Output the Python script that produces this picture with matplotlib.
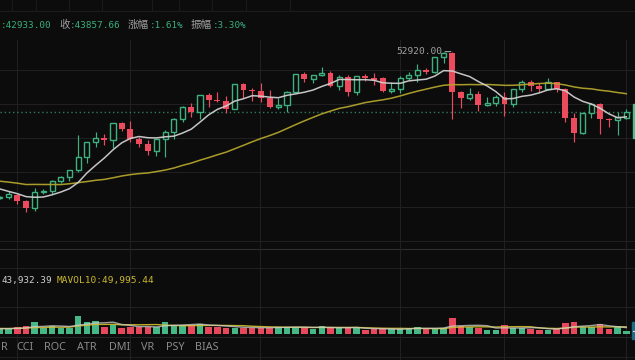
import matplotlib
matplotlib.use("Agg")
import matplotlib.pyplot as plt
import numpy as np
import pandas as pd
from matplotlib.lines import Line2D
from matplotlib.patches import Rectangle

# ---------------- data ----------------
prior_close = [35600, 35300, 35400, 31500, 32300, 33500, 34500, 31400, 32000, 34500,
               34300, 35700, 34800, 33300, 33600, 34500, 35100, 33500, 34000, 33700,
               32700, 33600, 33300, 34100, 32900, 32500, 32600, 31700, 31200]
prior_volume = [38000, 41000, 36000, 45000, 39000, 35000, 42000, 40000, 37000]

opens = [31030, 31180, 31450, 30510, 29410, 31900, 32010, 33510, 34060, 35110,
         37060, 39310, 39960, 39660, 42160, 41350, 39810, 39010, 38050, 39760,
         40810, 42850, 44650, 43860, 46400, 45700, 45510, 44350, 48010, 47110,
         47050, 45910, 44650, 44910, 46900, 49510, 48850, 49360, 49660, 47800,
         49110, 46810, 49260, 48960, 48900, 47050, 47310, 49000, 49410, 50160,
         49810, 52060, 52700, 46900, 46000, 46560, 44910, 45250, 46150, 45010,
         47260, 48310, 47800, 47310, 48400, 47310, 42910, 40660, 43750, 45010,
         42810, 42660, 42933]
highs = [31330, 32010, 31560, 30730, 32530, 32310, 33660, 34300, 35160, 40410,
         39360, 40810, 40560, 42210, 42310, 42510, 40150, 39660, 39850, 41160,
         42910, 44710, 45250, 46450, 46660, 46860, 46300, 48060, 48250, 47500,
         48160, 47160, 45910, 47010, 49560, 49810, 49410, 50560, 50010, 49410,
         49410, 49300, 49510, 49660, 49060, 48310, 49260, 49810, 51060, 50500,
         52150, 52880, 52920, 47080, 47410, 47010, 46060, 46410, 46900, 47310,
         48660, 48660, 48160, 48910, 48410, 47410, 43660, 43810, 45250, 45250,
         42960, 43900, 44280]
lows = [30880, 30810, 30060, 28860, 29080, 31560, 31560, 33160, 33510, 34860,
        36160, 38650, 38950, 38410, 41050, 39310, 38560, 37410, 37300, 37150,
        39760, 42360, 43150, 42760, 44650, 45400, 43750, 44300, 45910, 45550,
        45400, 44410, 44310, 43900, 46710, 48310, 48160, 49260, 47650, 47200,
        46300, 46410, 48510, 47910, 46900, 46660, 46660, 48660, 48400, 49510,
        49660, 51160, 42760, 44410, 45660, 44050, 44800, 44760, 43300, 44650,
        46810, 47050, 46810, 47230, 46810, 42400, 39350, 40510, 43000, 40560,
        41560, 40460, 42856]
closes = [31180, 31560, 30510, 29410, 31900, 32010, 33510, 34060, 35110, 37060,
          39310, 39960, 39660, 42160, 41350, 39810, 39010, 38050, 39760, 40810,
          42850, 44650, 43860, 46400, 45700, 45510, 44350, 48010, 47110, 47050,
          45910, 44650, 44910, 46900, 49510, 48850, 49360, 49660, 47800, 49110,
          46810, 49260, 48960, 48700, 47050, 47310, 49000, 49410, 50160, 49810,
          52060, 52700, 46900, 46000, 46560, 44910, 45250, 46150, 45010, 47260,
          48310, 47800, 47310, 48400, 47310, 42910, 40660, 43750, 45010, 42810,
          42660, 43160, 43857.66]
volumes = [34900, 34900, 52700, 58100, 86800, 42600, 58100, 42600, 42600, 135600,
           86800, 99200, 50400, 68200, 45000, 50400, 52700, 52700, 52700, 89100,
           68200, 68200, 68200, 71300, 52700, 52700, 45000, 45000, 45000, 45000,
           45000, 45000, 52700, 52700, 52700, 45000, 34900, 54300, 45000, 45000,
           45000, 45000, 24800, 32600, 37200, 34900, 34900, 42600, 50400, 37200,
           37200, 45000, 120100, 60500, 50400, 42600, 29500, 29500, 65900, 45000,
           45000, 37200, 29500, 29500, 32600, 81400, 89100, 52700, 52700, 71300,
           32600, 52700, 19400]

header_labels = ["", "收", "涨幅", "振幅"]
header_values = [":42933.00", ":43857.66", ":1.61%", ":3.30%"]
mavol_texts = ["43,932.39", "MAVOL10:49,995.44"]
tabs = ["R", "CCI", "ROC", "ATR", "DMI", "VR", "PSY", "BIAS"]

# ---------------- styles ----------------
BG = "#0c0c0d"
GRID = "#202022"
GREEN = "#3fb07e"
RED = "#ec4a5d"
VGREEN = "#46b886"
VRED = "#e8485c"
MA_W = "#cfcfcf"
MA_Y = "#b3a42b"
GREY = "#a0a0a0"
MONO = ["DejaVu Sans Mono", "Noto Sans CJK SC"]
CJK = ["Noto Sans CJK SC", "DejaVu Sans"]

W, H = 635, 360
fig = plt.figure(figsize=(6.35, 3.6), dpi=100)
fig.patch.set_facecolor(BG)

def fy(y):
    return 1 - y / H

def fx(x):
    return x / W

def hline(y, color=GRID, x0=0, x1=W, lw=1.0, z=-1):
    fig.add_artist(Line2D([fx(x0), fx(x1)], [fy(y), fy(y)], transform=fig.transFigure,
                          color=color, lw=lw * 0.72, zorder=z))

def vline(x, y0, y1, color=GRID, lw=1.0, z=-1):
    fig.add_artist(Line2D([fx(x), fx(x)], [fy(y0), fy(y1)], transform=fig.transFigure,
                          color=color, lw=lw * 0.72, zorder=z))

# grid / frame lines (pixel positions of the layout)
for y in [70, 104, 138, 172, 207, 241, 268.3, 307.3]:
    hline(y)
hline(11, "#1c1c1e")
hline(249.3, "#303032")
hline(337.3, "#262628")
hline(356.7, "#1e1e20")
for x in [16.7, 130, 260, 400.3, 504.3, 626.3]:
    vline(x, 40, 360)
for x in [12, 36, 69, 102, 152, 179, 212, 246, 290]:
    vline(x, 0, 11, "#1a1a1c")

n = len(closes)
xi = np.arange(n)
o = np.array(opens, float)
h = np.array(highs, float)
l = np.array(lows, float)
c = np.array(closes, float)
v = np.array(volumes, float)
up = c >= o

all_c = pd.Series(np.concatenate([prior_close, c]))
ma7 = all_c.rolling(7).mean().values[len(prior_close):]
ma30 = all_c.rolling(30).mean().values[len(prior_close):]
all_v = pd.Series(np.concatenate([prior_volume, v]))
mv5 = all_v.rolling(5).mean().values[len(prior_volume):]
mv10 = all_v.rolling(10).mean().values[len(prior_volume):]

# ---------------- price panel ----------------
ax = fig.add_axes([0, fy(249), 1, (249 - 11) / H])
ax.set_facecolor("none")
ax.set_xlim(0.0115, 73.0)
ax.set_ylim(23308, 59008)
ax.axis("off")

ax.axhline(c[-1], color="#2e7a5a", lw=1.0, ls=(0, (1, 2)), zorder=1)

blo = np.minimum(o, c)
bhi = np.maximum(o, c)
minh = 150
dn = ~up
ax.vlines(xi[dn], l[dn], h[dn], color=RED, lw=0.85, zorder=2)
ax.bar(xi[dn], np.maximum(bhi - blo, minh)[dn], bottom=blo[dn], width=0.68,
       color=RED, linewidth=0, zorder=3)
ax.vlines(xi[up], bhi[up], h[up], color=GREEN, lw=0.85, zorder=2)
ax.vlines(xi[up], l[up], blo[up], color=GREEN, lw=0.85, zorder=2)
ax.bar(xi[up], np.maximum(bhi - blo, minh)[up], bottom=blo[up], width=0.58,
       facecolor=BG, edgecolor=GREEN, linewidth=1.0, zorder=3)

ax.plot(xi, ma30, color=MA_Y, lw=1.1, zorder=4, alpha=0.95)
ax.plot(xi, ma7, color=MA_W, lw=1.1, zorder=4, alpha=0.95)

imax = int(np.argmax(h))
ax.annotate(f"{h[imax]:.2f}", xy=(imax, h[imax]), xytext=(-10, 0),
            textcoords="offset pixels", ha="right", va="center",
            color="#a0a0a0", fontsize=6.8, family=MONO, zorder=6,
            arrowprops=dict(arrowstyle="-", color="#a0a0a0", lw=0.8,
                            shrinkA=0, shrinkB=1))

# header text
tr = fig.transFigure
hx_lab = [None, 59, 128, 191]
hx_val = [1, 70, 150, 213]
for lab, val, xl, xv in zip(header_labels, header_values, hx_lab, hx_val):
    if lab:
        fig.text(fx(xl), fy(25), lab, color=GREY, fontsize=7.6, family=CJK,
                 ha="left", va="center")
    fig.text(fx(xv), fy(25), val, color="#38b07c", fontsize=6.7, family=MONO,
             ha="left", va="center")

# ---------------- volume panel ----------------
axv = fig.add_axes([0, fy(337), 1, (337 - 249) / H])
axv.set_facecolor("none")
axv.set_xlim(0.0115, 73.0)
axv.set_ylim(-3.5 * 7750, 84.5 * 7750)
axv.axis("off")
axv.bar(xi, v, width=0.74, color=np.where(up, VGREEN, VRED), linewidth=0, zorder=2)
axv.plot(xi, mv10, color="#d2bf2c", lw=1.0, zorder=3, alpha=0.9)
axv.plot(xi, mv5, color="#d0d0d0", lw=1.0, zorder=3, alpha=0.75)

fig.text(fx(1), fy(280.7), mavol_texts[0], color="#cfcfcf", fontsize=6.7,
         family=MONO, ha="left", va="center")
fig.text(fx(56.7), fy(280.7), mavol_texts[1], color="#c9b72e", fontsize=6.8,
         family=MONO, ha="left", va="center")

# tabs
tab_x = [1, 16, 44, 77, 109, 141, 166, 195]
for t, x in zip(tabs, tab_x):
    fig.text(fx(x), fy(347.3), t, color="#8a8a8a", fontsize=7.8, family="Noto Sans",
             ha="left", va="center")

# right-edge axis labels (partially visible)
fig.add_artist(Rectangle((fx(632.5), fy(137.5)), fx(4), (137.5 - 103.5) / H,
                         transform=tr, color="#4dbf8c", zorder=5))
fig.add_artist(Rectangle((fx(632), fy(339)), fx(4), (339 - 321.7) / H,
                         transform=tr, color="#176c86", zorder=5))
fig.add_artist(Line2D([fx(633), fx(635)], [fy(330.7), fy(330.7)], transform=tr,
                      color="#e0e0e0", lw=0.8, zorder=6))

fig.savefig("out.png", dpi=100, facecolor=BG)
